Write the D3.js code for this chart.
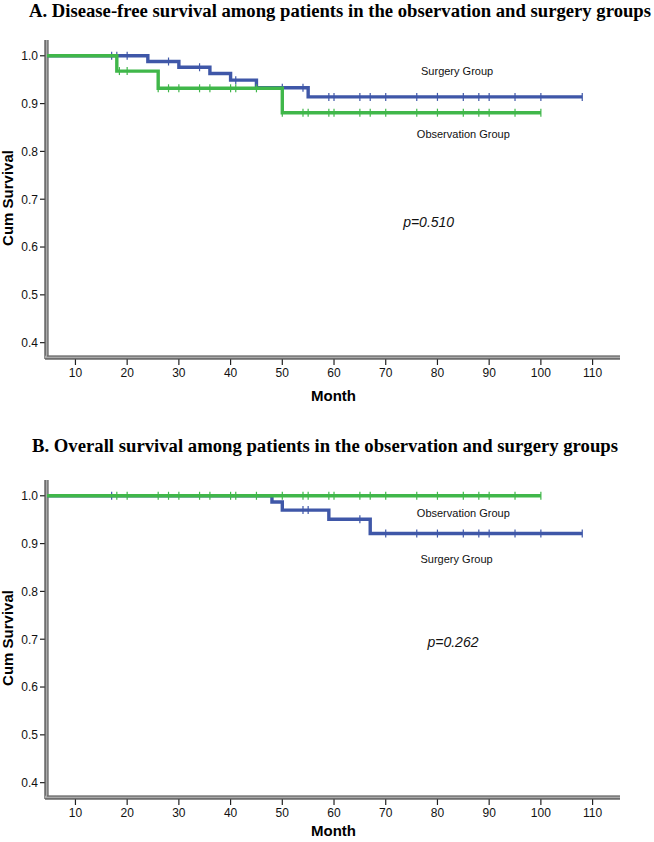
<!DOCTYPE html>
<html><head><meta charset="utf-8">
<script src="https://cdn.jsdelivr.net/npm/d3@7"></script>
<style>body{margin:0;background:#fff}svg{display:block}</style>
</head><body>
<svg id="c" width="654" height="842"></svg>
<script>
// ---------- data ----------
const monthTicks = [10, 20, 30, 40, 50, 60, 70, 80, 90, 100, 110];
const survTicks = [0.4, 0.5, 0.6, 0.7, 0.8, 0.9, 1.0];
const tickLabels = ["0.4", "0.5", "0.6", "0.7", "0.8", "0.9", "1.0"];

// Panel A: disease-free survival
const titleA = "A. Disease-free survival among patients in the observation and surgery groups";
const surgA_times = [0, 24, 30, 36, 40, 45, 55];
const surgA_surv  = [1.0, 0.988, 0.976, 0.963, 0.949, 0.933, 0.914];
const surgA_end = 108;
const surgA_cens = [17, 18, 20, 28, 34, 41, 50, 54, 59, 60, 65, 67, 70, 76, 80, 85, 88, 90, 95, 100, 108];
const obsA_times = [0, 18, 26, 50];
const obsA_surv  = [1.0, 0.968, 0.932, 0.881];
const obsA_end = 100;
const obsA_cens = [18.5, 20, 26, 28, 30, 34, 36, 40, 41, 45, 50, 54, 55, 59, 60, 65, 67, 70, 76, 80, 85, 88, 90, 95, 100];
const pA = "p=0.510";

// Panel B: overall survival
const titleB = "B. Overall survival among patients in the observation and surgery groups";
const surgB_times = [0, 48, 50, 59, 67];
const surgB_surv  = [1.0, 0.987, 0.970, 0.951, 0.921];
const surgB_end = 108;
const surgB_cens = [17, 54, 55, 65, 70, 76, 80, 85, 88, 90, 95, 100, 108];
const obsB_times = [0];
const obsB_surv  = [1.0];
const obsB_end = 100;
const obsB_cens = [18, 20, 26, 28, 30, 34, 36, 40, 41, 45, 50, 54, 55, 59, 60, 65, 67, 70, 76, 80, 85, 88, 90, 95, 100];
const pB = "p=0.262";

const groupNames = ["Surgery Group", "Observation Group"];

// ---------- drawing ----------
const svg = d3.select("#c");
const BLUE = "#3f57a8", GREEN = "#40b74a";
const sans = "Arial, 'Liberation Sans', sans-serif";

function panel(cfg) {
  const g = svg.append("g").attr("transform", `translate(0,${cfg.dy})`);
  const x = d3.scaleLinear().domain([4.5, 115.3]).range([47, 620]);
  const y = d3.scaleLinear().domain([0.37, 1.033]).range([357, 40]);

  // title
  svg.append("text").attr("x", cfg.titleX).attr("y", cfg.titleY)
    .attr("text-anchor", "middle")
    .attr("textLength", cfg.titleW).attr("lengthAdjust", "spacingAndGlyphs")
    .style("font-family", "'Liberation Serif', 'Times New Roman', serif")
    .style("font-weight", "bold").style("font-size", "18.5px")
    .text(cfg.title);

  // y axis ticks + labels
  const ya = g.append("g");
  survTicks.forEach((v, i) => {
    ya.append("line").attr("x1", 40).attr("x2", 46).attr("y1", y(v)).attr("y2", y(v))
      .attr("stroke", "#222").attr("stroke-width", 1.2);
    ya.append("text").attr("x", 38).attr("y", y(v)).attr("dy", "0.36em")
      .attr("text-anchor", "end").style("font-family", sans).style("font-size", "12px")
      .attr("fill", "#111").text(tickLabels[i]);
  });
  // x axis ticks + labels
  monthTicks.forEach(m => {
    g.append("line").attr("x1", x(m)).attr("x2", x(m)).attr("y1", 359).attr("y2", 365)
      .attr("stroke", "#222").attr("stroke-width", 1.2);
    g.append("text").attr("x", x(m)).attr("y", 377).attr("text-anchor", "middle")
      .style("font-family", sans).style("font-size", "12px").attr("fill", "#111").text(m);
  });

  // axis frame lines (double line style)
  const [x0, x1] = x.range();
  const [yb, yt] = y.range();
  g.append("line").attr("x1", x0 - 0.5).attr("x2", x0 - 0.5).attr("y1", yt).attr("y2", yb + 2)
    .attr("stroke", "#aaa").attr("stroke-width", 3.5);
  g.append("line").attr("x1", x0 - 2).attr("x2", x0 - 2).attr("y1", yt).attr("y2", yb + 2)
    .attr("stroke", "#333").attr("stroke-width", 1);
  g.append("line").attr("x1", x0 + 1).attr("x2", x0 + 1).attr("y1", yt).attr("y2", yb)
    .attr("stroke", "#555").attr("stroke-width", 1);
  g.append("line").attr("x1", x0 - 2).attr("x2", x1).attr("y1", yb + 0.5).attr("y2", yb + 0.5)
    .attr("stroke", "#aaa").attr("stroke-width", 3.5);
  g.append("line").attr("x1", x0 - 2).attr("x2", x1).attr("y1", yb + 2).attr("y2", yb + 2)
    .attr("stroke", "#333").attr("stroke-width", 1);
  g.append("line").attr("x1", x0).attr("x2", x1).attr("y1", yb - 1).attr("y2", yb - 1)
    .attr("stroke", "#555").attr("stroke-width", 1);

  // axis titles
  svg.append("text").attr("transform", `translate(13,${cfg.dy + 198}) rotate(-90)`)
    .attr("text-anchor", "middle").style("font-family", sans).style("font-weight", "bold")
    .style("font-size", "15px").text("Cum Survival");
  svg.append("text").attr("x", (x0 + x1) / 2).attr("y", cfg.dy + cfg.monthY)
    .attr("text-anchor", "middle").style("font-family", sans).style("font-weight", "bold")
    .style("font-size", "15px").text("Month");

  // survival curves
  const line = d3.line().x(d => x(d[0])).y(d => y(d[1])).curve(d3.curveStepAfter);
  function curve(times, surv, end, cens, color) {
    const start = x.domain()[0];
    const pts = times.map((t, i) => [Math.max(t, start), surv[i]]);
    pts.push([end, surv[surv.length - 1]]);
    const level = t => surv[d3.bisectRight(times, t) - 1];
    g.append("path").attr("d", line(pts)).attr("fill", "none")
      .attr("stroke", color).attr("stroke-width", 3.4);
    g.selectAll(null).data(cens).enter().append("line")
      .attr("x1", d => x(d)).attr("x2", d => x(d))
      .attr("y1", d => y(level(d)) - 4).attr("y2", d => y(level(d)) + 4)
      .attr("stroke", color).attr("stroke-width", 1.2);
  }
  curve(cfg.s.times, cfg.s.surv, cfg.s.end, cfg.s.cens, BLUE);
  curve(cfg.o.times, cfg.o.surv, cfg.o.end, cfg.o.cens, GREEN);

  // group labels
  cfg.labels.forEach(l => {
    g.append("text").attr("x", x(l.m)).attr("y", y(l.v)).attr("text-anchor", "middle")
      .attr("dy", "0.35em").style("font-family", sans).style("font-size", "11px")
      .attr("fill", "#111").text(l.text);
  });
  // p value
  g.append("text").attr("x", x(cfg.p.m)).attr("y", y(cfg.p.v)).attr("text-anchor", "middle")
    .attr("dy", "0.35em").style("font-family", sans).style("font-style", "italic")
    .style("font-size", "14px").attr("fill", "#111").text(cfg.p.text);
}

panel({
  dy: 0, title: titleA, titleX: 340, titleY: 17, titleW: 622, monthY: 401,
  s: {times: surgA_times, surv: surgA_surv, end: surgA_end, cens: surgA_cens},
  o: {times: obsA_times, surv: obsA_surv, end: obsA_end, cens: obsA_cens},
  labels: [{text: groupNames[0], m: 83.8, v: 0.967}, {text: groupNames[1], m: 85, v: 0.837}],
  p: {text: pA, m: 78.3, v: 0.653}
});
panel({
  dy: 440, title: titleB, titleX: 325, titleY: 452, titleW: 586, monthY: 396,
  s: {times: surgB_times, surv: surgB_surv, end: surgB_end, cens: surgB_cens},
  o: {times: obsB_times, surv: obsB_surv, end: obsB_end, cens: obsB_cens},
  labels: [{text: groupNames[1], m: 85, v: 0.963}, {text: groupNames[0], m: 83.7, v: 0.867}],
  p: {text: pB, m: 83, v: 0.693}
});
</script>
</body></html>
